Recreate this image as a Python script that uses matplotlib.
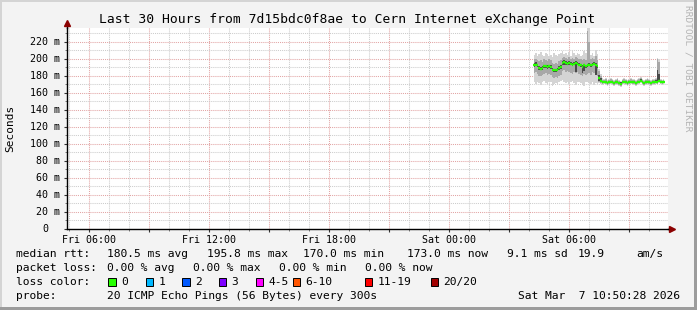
import matplotlib.pyplot as plt
import numpy as np
from matplotlib.patches import Rectangle

W, H = 697, 310
MONO = 'DejaVu Sans Mono'

# samples every 300 s, first one Sat 04:15 (x axis = hours since Fri 00:00)
t_start = 28.25
t_step = 5 / 60

median_ms = [192, 193, 192, 189, 188, 189, 191, 191, 190, 191, 190, 187, 186, 186, 187, 189, 190, 195, 196, 195,
             194, 195, 194, 193, 194, 195, 194, 193, 192, 190, 192, 191, 192, 193, 192, 193, 194, 193, 191,
             177, 174, 172, 173, 172, 171, 172, 173, 172, 171, 172, 172, 171, 170, 172, 173, 172, 171, 172, 173,
             172, 172, 171, 172, 173, 174, 172, 171, 172, 173, 172, 171, 172, 172, 173, 172, 174, 173, 172, 173]
# smoke: outer (min/max), middle and inner ping bands
smoke_hi = [204, 206, 203, 205, 208, 204, 203, 207, 205, 203, 204, 202, 206, 204, 203, 205, 207, 209, 205, 206,
            204, 208, 203, 210, 207, 204, 206, 205, 203, 204, 209, 207, 236, 236, 204, 206, 203, 210, 205,
            188, 182, 177, 176, 177, 175, 176, 177, 176, 175, 176, 177, 175, 174, 176, 177, 176, 175, 176, 177,
            176, 176, 175, 176, 177, 178, 176, 175, 176, 177, 176, 175, 176, 176, 177, 201, 199, 176, 175, 176]
smoke_lo = [172, 170, 173, 171, 169, 172, 174, 171, 170, 173, 172, 168, 170, 171, 169, 172, 174, 175, 172, 171,
            173, 170, 172, 174, 171, 169, 172, 173, 171, 170, 168, 172, 173, 171, 170, 172, 169, 171, 170,
            171, 170, 169, 170, 169, 168, 169, 170, 169, 168, 169, 169, 168, 167, 169, 170, 169, 168, 169, 170,
            169, 169, 168, 169, 170, 171, 169, 168, 169, 170, 169, 168, 169, 169, 170, 169, 171, 170, 169, 170]
mid_hi = [199, 200, 198, 197, 198, 196, 199, 198, 197, 199, 198, 195, 194, 195, 194, 197, 198, 201, 202, 201,
          200, 202, 200, 201, 200, 202, 201, 199, 200, 198, 199, 198, 232, 220, 199, 201, 200, 203, 198,
          185, 180, 175, 175, 176, 174, 175, 176, 175, 174, 175, 176, 174, 173, 175, 176, 175, 174, 175, 176,
          175, 175, 174, 175, 176, 177, 175, 174, 175, 176, 175, 174, 175, 175, 176, 199, 196, 175, 174, 175]
mid_lo = [183, 184, 182, 180, 179, 181, 182, 183, 181, 182, 181, 178, 177, 178, 177, 180, 181, 185, 186, 184,
          185, 184, 183, 182, 184, 183, 184, 182, 181, 180, 182, 181, 182, 183, 181, 184, 183, 182, 180,
          172, 171, 170, 171, 170, 169, 170, 171, 170, 169, 170, 170, 169, 168, 170, 171, 170, 169, 170, 171,
          170, 170, 169, 170, 171, 172, 170, 169, 170, 171, 170, 169, 170, 170, 171, 170, 172, 171, 170, 171]
inner_hi = [195, 196, 194, 191, 190, 191, 193, 193, 192, 193, 192, 189, 188, 188, 189, 191, 192, 197, 198, 197,
            196, 197, 196, 195, 196, 197, 196, 195, 194, 192, 194, 193, 194, 195, 194, 195, 196, 195, 193,
            181, 177, 174, 174, 174, 173, 174, 174, 174, 173, 174, 174, 173, 172, 174, 174, 174, 173, 174, 174,
            174, 174, 173, 174, 174, 176, 174, 173, 174, 174, 174, 173, 174, 174, 175, 186, 182, 174, 174, 174]
inner_lo = [190, 191, 190, 187, 186, 187, 189, 189, 188, 189, 188, 185, 184, 184, 185, 187, 188, 192, 193, 193,
            192, 193, 192, 191, 192, 184, 192, 191, 190, 183, 185, 189, 190, 191, 190, 191, 192, 181, 189,
            174, 172, 171, 172, 171, 170, 171, 172, 171, 170, 171, 171, 170, 169, 171, 172, 171, 170, 171, 172,
            171, 171, 170, 171, 172, 173, 171, 170, 171, 172, 171, 170, 171, 171, 172, 171, 173, 172, 171, 172]

x_ticks = [6, 12, 18, 24, 30]
x_labels = ['Fri 06:00', 'Fri 12:00', 'Fri 18:00', 'Sat 00:00', 'Sat 06:00']
y_ticks = [0, 20, 40, 60, 80, 100, 120, 140, 160, 180, 200, 220]

title = 'Last 30 Hours from 7d15bdc0f8ae to Cern Internet eXchange Point'
rtt_stats = ['180.5 ms avg', '195.8 ms max', '170.0 ms min', '173.0 ms now', '9.1 ms sd', '19.9', 'am/s']
loss_stats = ['0.00 % avg', '0.00 % max', '0.00 % min', '0.00 % now']
loss_labels = ['0', '1', '2', '3', '4-5', '6-10', '11-19', '20/20']
loss_colors = ['#26ff00', '#00b8ff', '#0059ff', '#7e00ff', '#ff00ff', '#ff5500', '#ff0000', '#a10000']
probe_text = '20 ICMP Echo Pings (56 Bytes) every 300s'
stamp = 'Sat Mar  7 10:50:28 2026'


def fx(x):
    return x / W


def fy(y):
    return 1 - y / H


fig = plt.figure(figsize=(W / 100, H / 100), dpi=100, facecolor='#f3f3f3')
# rrdtool style frame
fig.add_artist(Rectangle((0, fy(2)), 1, 2 / H, transform=fig.transFigure, color='#d4d4d4', lw=0))
fig.add_artist(Rectangle((0, 0), 2 / W, 1, transform=fig.transFigure, color='#d4d4d4', lw=0))
fig.add_artist(Rectangle((0, 0), 1, 3 / H, transform=fig.transFigure, color='#9c9c9c', lw=0))
fig.add_artist(Rectangle((fx(694), 0), 3 / W, 1, transform=fig.transFigure, color='#9c9c9c', lw=0))

ax = fig.add_axes([fx(67), fy(228.5), 601 / W, (228.5 - 28) / H])
ax.set_facecolor('white')
ax.set_xlim(4.9, 34.95)
ax.set_ylim(0, 236)

t = t_start + t_step * np.arange(len(median_ms))
ax.fill_between(t, smoke_lo, smoke_hi, step='mid', color='#d4d4d4', lw=0, zorder=2)
ax.fill_between(t, mid_lo, mid_hi, step='mid', color='#a8a8a8', lw=0, zorder=3)
ax.fill_between(t, inner_lo, inner_hi, step='mid', color='#4a4a4a', lw=0, zorder=4)
ax.hlines(median_ms, t - t_step / 2, t + t_step / 2, colors=loss_colors[0], lw=1.7, zorder=5)

# grid
ax.set_xticks(np.arange(6, 35, 3))
ax.set_xticks(np.arange(5, 35, 1), minor=True)
ax.set_xticklabels([x_labels[x_ticks.index(v)] if v in x_ticks else '' for v in np.arange(6, 35, 3)],
                   fontfamily=MONO, fontsize=7.2)
ax.set_yticks(y_ticks)
ax.set_yticks(np.arange(10, 236, 20), minor=True)
ax.set_yticklabels([])
ax.grid(which='major', color='#e2a4a4', ls=(0, (1, 1)), lw=0.75)
ax.grid(which='minor', color='#cccccc', ls=(0, (1, 1)), lw=0.75)
ax.set_axisbelow(True)
ax.tick_params(which='major', length=2.5, width=0.8, color='#333333', pad=2)
ax.tick_params(which='minor', length=1.5, width=0.6, color='#666666')
for v in y_ticks:
    lab = f'{v} m' if v else '0'
    xoff = -0.0115 if v else -0.0315
    ax.text(xoff, v, lab, transform=ax.get_yaxis_transform(), ha='right', va='center',
            fontfamily=MONO, fontsize=7.2)

for s in ['top', 'right']:
    ax.spines[s].set_visible(False)
for s in ['left', 'bottom']:
    ax.spines[s].set_color('black')
    ax.spines[s].set_linewidth(1)
# axis arrows
ax.plot([0, 0], [1, 1.025], transform=ax.transAxes, color='black', lw=1, clip_on=False)
ax.plot([1, 1.004], [0, 0], transform=ax.transAxes, color='black', lw=1, clip_on=False)
ax.plot([0], [1.027], marker='^', ms=4.5, color='#8b0000', transform=ax.transAxes, clip_on=False)
ax.plot([1.007], [0], marker='>', ms=4.5, color='#8b0000', transform=ax.transAxes, clip_on=False)

fig.text(fx(347.5), fy(20), title, ha='center', va='center', fontfamily=MONO, fontsize=9.4)
fig.text(fx(10), fy(128), 'Seconds', rotation=90, ha='center', va='center', fontfamily=MONO, fontsize=8)
fig.text(fx(688), fy(5), 'RRDTOOL / TOBI OETIKER', rotation=270, ha='center', va='top',
         fontfamily=MONO, fontsize=6.8, color='#b4b4b4')

fs = 8.1
row1, row2, row3, row4 = 254, 268.3, 281.7, 296
fig.text(fx(16), fy(row1), 'median rtt:', va='center', fontfamily=MONO, fontsize=fs)
for s, x in zip(rtt_stats, [106.7, 206.7, 303.3, 407.3, 507.3, 577.5, 636]):
    fig.text(fx(x), fy(row1), s, va='center', fontfamily=MONO, fontsize=fs)
fig.text(fx(16), fy(row2), 'packet loss:', va='center', fontfamily=MONO, fontsize=fs)
for s, x in zip(loss_stats, [106.7, 193.3, 279.3, 365]):
    fig.text(fx(x), fy(row2), s, va='center', fontfamily=MONO, fontsize=fs)
fig.text(fx(16), fy(row3), 'loss color:', va='center', fontfamily=MONO, fontsize=fs)
for lab, col, x in zip(loss_labels, loss_colors, [108.3, 145.7, 182.3, 219, 256, 292.7, 365, 430.7]):
    fig.add_artist(Rectangle((fx(x), fy(285.7)), 7.3 / W, 8 / H, transform=fig.transFigure,
                             facecolor=col, edgecolor='black', lw=0.7))
    fig.text(fx(x + 12.5), fy(row3), lab, va='center', fontfamily=MONO, fontsize=fs)
fig.text(fx(16), fy(row4), 'probe:', va='center', fontfamily=MONO, fontsize=fs)
fig.text(fx(106.7), fy(row4), probe_text, va='center', fontfamily=MONO, fontsize=fs)
fig.text(fx(680.5), fy(row4), stamp, va='center', ha='right', fontfamily=MONO, fontsize=fs)

fig.savefig('out.png', dpi=100, facecolor=fig.get_facecolor())
